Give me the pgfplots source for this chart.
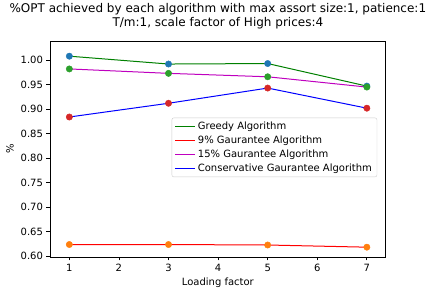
\documentclass[border=0pt]{standalone}
\usepackage{pgfplots}
\pgfplotsset{compat=1.18}
\usepackage{fontspec}
\setmainfont{DejaVu Sans}
\definecolor{mgreen}{RGB}{0,128,0}
\definecolor{mmag}{RGB}{191,0,191}
\definecolor{Cb}{HTML}{1F77B4}
\definecolor{Co}{HTML}{FF7F0E}
\definecolor{Cg}{HTML}{2CA02C}
\definecolor{Cr}{HTML}{D62728}
\begin{document}
\begin{tikzpicture}[x=1pt,y=1pt]
\path (0,0) rectangle (434,293);
\begin{axis}[at={(50pt,38pt)}, anchor=south west, scale only axis,
  width=335.7pt, height=216pt,
  xmin=0.61, xmax=7.38, ymin=0.5986, ymax=1.039,
  xtick={1,2,3,4,5,6,7},
  ytick={0.60,0.65,0.70,0.75,0.80,0.85,0.90,0.95,1.00},
  yticklabel style={/pgf/number format/.cd, fixed, fixed zerofill, precision=2},
  /pgf/number format/assume math mode=true,
  tick label style={font=\fontsize{10}{12}\selectfont},
  tick align=outside, major tick length=3.5pt,
  tick style={black, line width=0.8pt},
  axis line style={line width=0.8pt},
  xtick pos=bottom, ytick pos=left,
  title={\%OPT achieved by each algorithm with max assort size:1, patience:1\\T/m:1, scale factor of High prices:4},
  title style={align=center, font=\fontsize{12}{14.5}\selectfont, at={(axis description cs:0.5,1)}, anchor=south, yshift=2pt},
  xlabel={Loading factor}, ylabel={\%},
  label style={font=\fontsize{10}{12}\selectfont},
  xlabel style={at={(axis description cs:0.5,-0.12)}, anchor=center},
  ylabel style={at={(axis description cs:-0.119,0.5)}, anchor=center, rotate=0},
  legend style={at={(axis description cs:0.3625,0.645)}, anchor=north west,
    font=\fontsize{10}{12}\selectfont, draw={rgb,255:red,204;green,204;blue,204},
    rounded corners=2pt, fill=white, fill opacity=0.8, text opacity=1,
    inner xsep=3pt, inner ysep=2pt, row sep=0.9pt, cells={anchor=west}},
  legend image code/.code={\draw[#1] (0pt,0pt) -- (20pt,0pt);},
]
% scatter markers
\addplot[only marks, mark=*, mark size=3.2pt, mark options={draw=Cb, fill=Cb}, forget plot] coordinates {(1,1.008) (3,0.992) (5,0.993) (7,0.947)};
\addplot[only marks, mark=*, mark size=3.2pt, mark options={draw=Co, fill=Co}, forget plot] coordinates {(1,0.624) (3,0.624) (5,0.623) (7,0.6186)};
\addplot[only marks, mark=*, mark size=3.2pt, mark options={draw=Cg, fill=Cg}, forget plot] coordinates {(1,0.982) (3,0.973) (5,0.966) (7,0.945)};
\addplot[only marks, mark=*, mark size=3.2pt, mark options={draw=Cr, fill=Cr}, forget plot] coordinates {(1,0.884) (3,0.912) (5,0.943) (7,0.902)};
% lines
\addplot[mgreen, line width=1pt, no marks] coordinates {(1,1.008) (3,0.992) (5,0.993) (7,0.947)};
\addlegendentry{Greedy Algorithm}
\addplot[red, line width=1pt, no marks] coordinates {(1,0.624) (3,0.624) (5,0.623) (7,0.6186)};
\addlegendentry{9\% Gaurantee Algorithm}
\addplot[mmag, line width=1pt, no marks] coordinates {(1,0.982) (3,0.973) (5,0.966) (7,0.945)};
\addlegendentry{15\% Gaurantee Algorithm}
\addplot[blue, line width=1pt, no marks] coordinates {(1,0.884) (3,0.912) (5,0.943) (7,0.902)};
\addlegendentry{Conservative Gaurantee Algorithm}
\end{axis}
\end{tikzpicture}
\end{document}
